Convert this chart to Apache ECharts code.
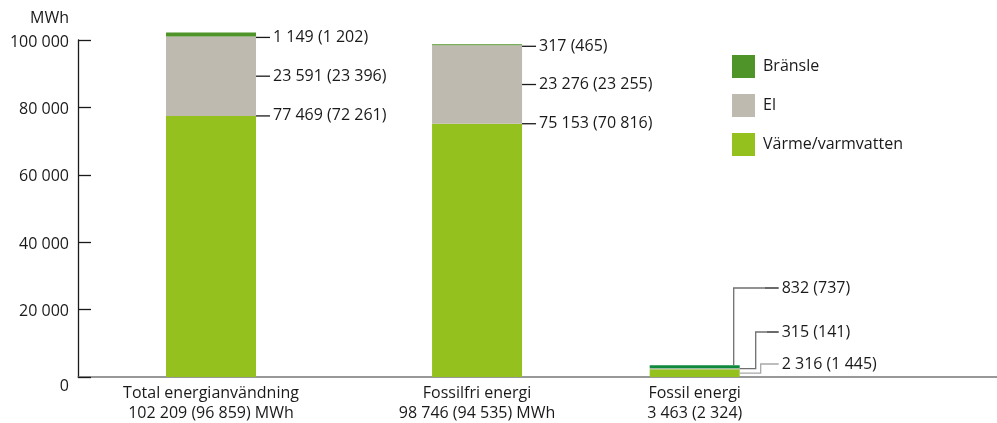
<!DOCTYPE html>
<html>
<head>
<meta charset="utf-8">
<script src="https://cdn.jsdelivr.net/npm/echarts@6/dist/echarts.min.js"></script>
<style>
html,body{margin:0;padding:0;background:#fff;}
#chart{width:997px;height:423px;}
</style>
</head>
<body>
<div id="chart"></div>
<script>
// ---- data ----
const categories = ['Total energianvändning', 'Fossilfri energi', 'Fossil energi'];
const totals = [102209, 98746, 3463];
const totalsPrev = [96859, 94535, 2324];
const totalUnits = [' MWh', ' MWh', ''];
const varme = [77469, 75153, 2316];
const varmePrev = [72261, 70816, 1445];
const el = [23591, 23276, 315];
const elPrev = [23396, 23255, 141];
const bransle = [1149, 317, 832];
const branslePrev = [1202, 465, 737];
const seriesNames = ['Värme/varmvatten', 'El', 'Bränsle'];
const yTicks = [0, 20000, 40000, 60000, 80000, 100000];
const yUnit = 'MWh';

// ---- layout / style (not data) ----
const SLOT_COUNT = 38;
const slotOf = [5, 16, 25];
const BAR_W = 90;
const FONT = '"Open Sans", Lato, sans-serif';
const FS = 16;
const ELBOW_ROWS = [13, 45, 89];
const COLORS = ['#95c11f', '#bebaaf', '#4f9429'];
const FOSSIL_BRANSLE = '#0f8a3c';

function fmt(n) { return String(n).replace(/\B(?=(\d{3})+(?!\d))/g, ' '); }

const slotLabels = new Array(SLOT_COUNT).fill('');
categories.forEach((c, i) => {
  slotLabels[slotOf[i]] = c + '\n' + fmt(totals[i]) + ' (' + fmt(totalsPrev[i]) + ')' + totalUnits[i];
});
function toSlots(arr) {
  const out = new Array(SLOT_COUNT).fill('-');
  arr.forEach((v, i) => { out[slotOf[i]] = v; });
  return out;
}
const slotAxis = slotLabels.map((_, i) => String(i));

const chart = echarts.init(document.getElementById('chart'), null, {renderer: 'canvas'});

function renderLabels(params, api) {
  const slot = api.value(0);
  const i = api.value(1);
  const base = api.coord([slot, 0]);
  const y0 = base[1];
  const xr = base[0] + BAR_W / 2;
  const yAt = v => api.coord([slot, v])[1];
  const tot = varme[i] + el[i] + bransle[i];
  const texts = [
    fmt(varme[i]) + ' (' + fmt(varmePrev[i]) + ')',
    fmt(el[i]) + ' (' + fmt(elPrev[i]) + ')',
    fmt(bransle[i]) + ' (' + fmt(branslePrev[i]) + ')'
  ];
  const children = [];
  const txt = (x, y, t) => ({type: 'text', style: {x: x, y: y, text: t, fill: '#1a1a1a', fontSize: FS, fontFamily: FONT, verticalAlign: 'middle', align: 'left'}});
  const line = (pts, color) => ({type: 'polyline', shape: {points: pts}, style: {stroke: color, lineWidth: 1.3, fill: null}});
  if (y0 - yAt(tot) > 40) {
    const ys = [yAt(varme[i]), yAt(varme[i] + el[i] / 2), yAt(varme[i] + el[i]) + 1];
    ys.forEach((y, k) => {
      children.push(line([[xr, y], [xr + 14, y]], '#1a1a1a'));
      children.push(txt(xr + 17, y, texts[k]));
    });
  } else {
    const r0 = y0 - ELBOW_ROWS[0], r1 = y0 - ELBOW_ROWS[1], r2 = y0 - ELBOW_ROWS[2];
    const yv = yAt(varme[i] / 2), ye = yAt(varme[i] + el[i] / 2), yb = yAt(tot);
    children.push(line([[xr, yv], [xr + 21, yv], [xr + 21, r0], [xr + 39, r0]], '#a8a8a8'));
    children.push(line([[xr, ye], [xr + 16, ye], [xr + 16, r1], [xr + 27, r1]], '#6f6f6f'));
    children.push(line([[xr + 27, r1], [xr + 39, r1]], '#1a1a1a'));
    children.push(line([[xr - 6, yb], [xr - 6, r2], [xr + 25, r2]], '#6f6f6f'));
    children.push(line([[xr + 25, r2], [xr + 39, r2]], '#1a1a1a'));
    children.push(txt(xr + 42, r0, texts[0]));
    children.push(txt(xr + 42, r1, texts[1]));
    children.push(txt(xr + 42, r2, texts[2]));
  }
  return {type: 'group', children: children};
}

const option = {
  animation: false,
  textStyle: {fontFamily: FONT},
  grid: {left: 78, right: 0, top: 40, bottom: 45.5, containLabel: false},
  legend: {
    orient: 'vertical', left: 732, top: 55, padding: 0,
    itemWidth: 23, itemHeight: 23, itemGap: 16,
    icon: 'rect',
    data: [
      {name: seriesNames[2], itemStyle: {color: COLORS[2]}},
      {name: seriesNames[1], itemStyle: {color: COLORS[1]}},
      {name: seriesNames[0], itemStyle: {color: COLORS[0]}}
    ],
    textStyle: {fontSize: FS, color: '#1a1a1a', fontFamily: FONT, padding: [0, 0, 0, 3]}
  },
  xAxis: {
    type: 'category',
    data: slotAxis,
    axisLine: {lineStyle: {color: '#777', width: 1.5}},
    axisTick: {show: false},
    axisLabel: {
      interval: 0, margin: 6, color: '#1a1a1a', fontSize: FS, lineHeight: 20, fontFamily: FONT,
      formatter: (v, idx) => slotLabels[idx]
    }
  },
  yAxis: {
    type: 'value', min: 0, max: yTicks[yTicks.length - 1], interval: yTicks[1] - yTicks[0],
    name: yUnit,
    nameLocation: 'end', nameGap: 14,
    nameTextStyle: {color: '#1a1a1a', fontSize: FS, fontFamily: FONT, align: 'right', padding: [0, 9, 0, 0]},
    axisLine: {show: true, lineStyle: {color: '#1a1a1a', width: 1.3}},
    axisTick: {show: true, inside: true, length: 13, lineStyle: {color: '#1a1a1a', width: 1.3}},
    splitLine: {show: false},
    axisLabel: {
      margin: 9, color: '#1a1a1a', fontSize: FS, fontFamily: FONT, padding: [4, 0, 0, 0],
      formatter: v => v === 0 ? '{z|0}' : fmt(v),
      rich: {z: {fontSize: FS, fontFamily: FONT, color: '#1a1a1a', padding: [14, 0, 0, 0]}}
    }
  },
  series: [
    {name: seriesNames[0], type: 'bar', stack: 'e', barWidth: BAR_W, clip: false, data: toSlots(varme), itemStyle: {color: COLORS[0]}},
    {name: seriesNames[1], type: 'bar', stack: 'e', barWidth: BAR_W, clip: false, data: toSlots(el), itemStyle: {color: COLORS[1]}},
    {name: seriesNames[2], type: 'bar', stack: 'e', barWidth: BAR_W, clip: false, data: toSlots(bransle),
      itemStyle: {color: p => (p.dataIndex === slotOf[2] ? FOSSIL_BRANSLE : COLORS[2])}},
    {name: 'labels', type: 'custom', clip: false, silent: true, z: 5,
      data: categories.map((c, i) => [slotOf[i], i]),
      encode: {x: 0, y: -1},
      renderItem: renderLabels}
  ]
};
chart.setOption(option);
</script>
</body>
</html>
